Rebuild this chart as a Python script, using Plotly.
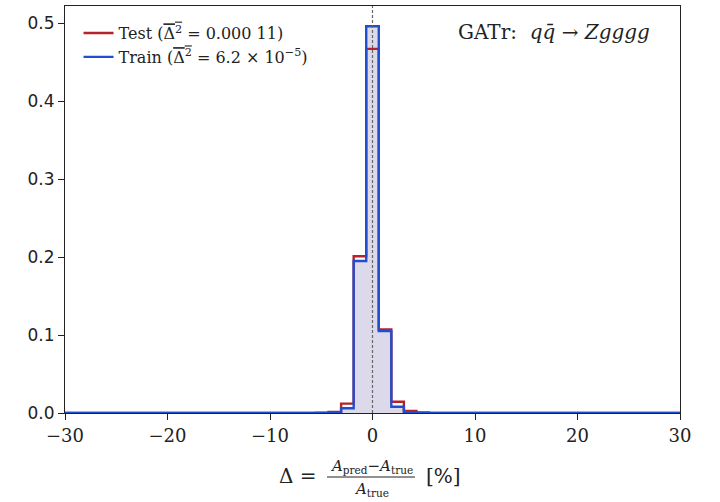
import numpy as np
import plotly.graph_objects as go

# Histogram: 49 bins spanning [-30, 30]
x_min, x_max, n_bins = -30.0, 30.0, 49
bin_edges = np.linspace(x_min, x_max, n_bins + 1)

# Non-zero densities, keyed by bin index (bin 24 is centred on 0)
test_nonzero = {20: 0.0003, 21: 0.0015, 22: 0.012, 23: 0.201, 24: 0.467,
                25: 0.107, 26: 0.0145, 27: 0.0025, 28: 0.0006}
train_nonzero = {21: 0.0006, 22: 0.006, 23: 0.195, 24: 0.496,
                 25: 0.105, 26: 0.008, 27: 0.0009, 28: 0.0002}

test_density = [test_nonzero.get(i, 0.0) for i in range(n_bins)]
train_density = [train_nonzero.get(i, 0.0) for i in range(n_bins)]

x_ticks = [-30, -20, -10, 0, 10, 20, 30]
y_ticks = [0.0, 0.1, 0.2, 0.3, 0.4, 0.5]

RED = "#b2232b"
BLUE = "#1f4fd0"
FILL = "#dcdaea"
SERIF = "DejaVu Serif"
SANS = "DejaVu Sans"

xs = list(bin_edges)
ys_test = test_density + [test_density[-1]]
ys_train = train_density + [train_density[-1]]

fig = go.Figure()
fig.add_trace(go.Scatter(x=xs, y=ys_train, mode="lines", line_shape="hv",
                         line=dict(width=0), fill="tozeroy", fillcolor=FILL,
                         showlegend=False, hoverinfo="skip"))
ob = "<span style='text-decoration:overline'>Δ<sup>2</sup></span>"
fig.add_trace(go.Scatter(x=xs, y=ys_test, mode="lines", line_shape="hv",
                         line=dict(color=RED, width=2.4),
                         name=f"Test ({ob} = 0.000 11)"))
fig.add_trace(go.Scatter(x=xs, y=ys_train, mode="lines", line_shape="hv",
                         line=dict(color=BLUE, width=2.4),
                         name=f"Train ({ob} = 6.2 × 10<sup>−5</sup>)"))

fig.add_vline(x=0, line=dict(color="#666666", width=1.2, dash="3px,2px"))

fig.update_layout(
    width=720, height=502,
    margin=dict(l=65, r=40, t=6, b=89),
    paper_bgcolor="white", plot_bgcolor="white",
    legend=dict(x=0.022, y=0.975, xanchor="left", yanchor="top",
                bgcolor="rgba(0,0,0,0)", font=dict(family=SERIF, size=16, color="#222"),
                tracegroupgap=0, itemwidth=30),
    showlegend=True,
)
fig.update_xaxes(range=[x_min, x_max], tickvals=x_ticks,
                 ticks="outside", ticklen=6, tickcolor="#222", showline=True,
                 linecolor="#222", linewidth=1.2, mirror=True, showgrid=False,
                 zeroline=False, tickfont=dict(family=SERIF, size=18, color="#222"))
fig.update_yaxes(range=[0, 0.522], tickvals=y_ticks, tickformat=".1f",
                 ticks="outside", ticklen=6, tickcolor="#222", showline=True,
                 linecolor="#222", linewidth=1.2, mirror=True, showgrid=False,
                 zeroline=False, tickfont=dict(family=SANS, size=17, color="#222"))

# Title-like label inside plot
fig.add_annotation(xref="paper", yref="paper", x=(652 - 65) / 615, y=0.935, xanchor="right",
                   yanchor="middle", showarrow=False,
                   text="GATr:  <i>q</i><i>q̄</i> → <i>Zgggg</i>",
                   font=dict(family=SERIF, size=20, color="#222"))

# x-axis label built as a fraction
fig.add_annotation(xref="paper", yref="paper", x=(298 - 65) / 615, y=-(476 - 413) / 407,
                   xanchor="center", yanchor="middle", showarrow=False,
                   text="Δ =", font=dict(family=SERIF, size=20, color="#222"))
fig.add_annotation(xref="paper", yref="paper", x=(371 - 65) / 615, y=-(466 - 413) / 407,
                   xanchor="center", yanchor="middle", showarrow=False,
                   text="<i>A</i><sub>pred</sub>−<i>A</i><sub>true</sub>",
                   font=dict(family=SERIF, size=15, color="#222"))
fig.add_annotation(xref="paper", yref="paper", x=(371 - 65) / 615, y=-(489 - 413) / 407,
                   xanchor="center", yanchor="middle", showarrow=False,
                   text="<i>A</i><sub>true</sub>",
                   font=dict(family=SERIF, size=15, color="#222"))
fig.add_shape(type="line", xref="paper", yref="paper",
              x0=(327 - 65) / 615, x1=(415 - 65) / 615,
              y0=-(477 - 413) / 407, y1=-(477 - 413) / 407,
              line=dict(color="#222", width=1))
fig.add_annotation(xref="paper", yref="paper", x=(424 - 65) / 615, y=-(476 - 413) / 407,
                   xanchor="left", yanchor="middle", showarrow=False,
                   text="[%]", font=dict(family=SERIF, size=20, color="#222"))

fig.write_html("out.html")
